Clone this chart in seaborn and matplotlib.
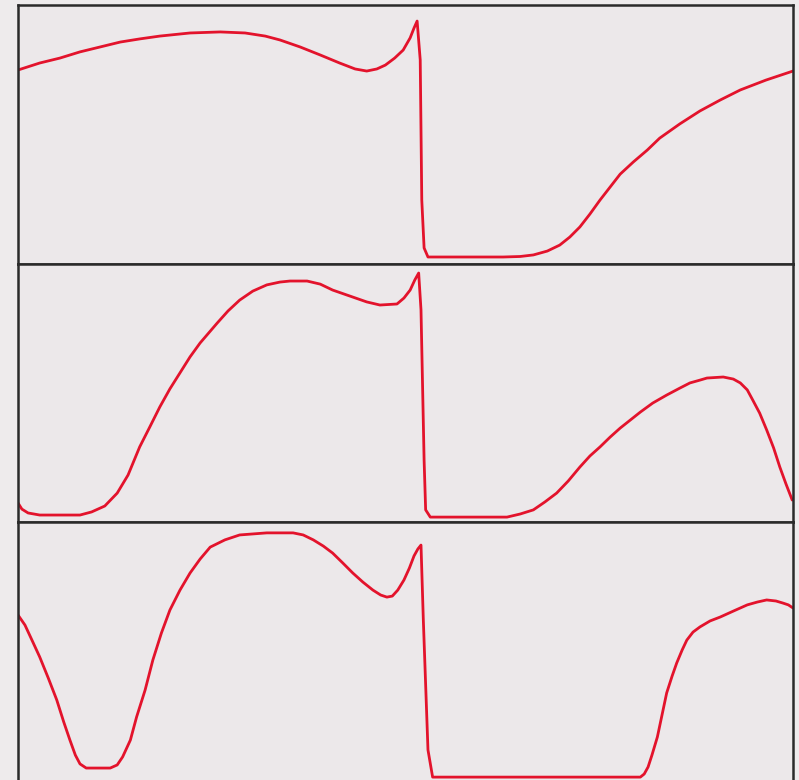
import numpy as np
import pandas as pd
import matplotlib
matplotlib.use("Agg")
import matplotlib.pyplot as plt
import seaborn as sns

# ---- data (time in % of window, signal in % of panel range) ----
t_top = [0, 2.8, 5.4, 8.0, 10.6, 13.2, 15.7, 18.3, 22.2, 26.1, 29.3, 31.9, 33.8, 36.4,
         39.0, 41.5, 43.5, 45.0, 46.3, 47.4, 48.6, 49.7, 50.6, 51.1, 51.5,
         51.9, 52.1, 52.4, 52.9, 62.6, 64.8, 66.5, 68.3, 69.9, 71.2, 72.5, 73.8, 75.1,
         76.4, 77.7, 79.4, 81.2, 82.8, 85.4, 88.0, 90.6, 93.2, 96.5, 100]
v_top = [74.9, 77.6, 79.5, 81.9, 83.8, 85.7, 86.9, 88.0, 89.2, 89.6, 89.2, 88.0, 86.5, 83.8,
         80.7, 77.6, 75.3, 74.5, 75.3, 76.8, 79.5, 82.6, 87.3, 91.1, 93.8,
         78.8, 24.7, 6.2, 2.7, 2.7, 2.9, 3.5, 5.0, 7.3, 10.4, 14.3, 19.3, 24.7,
         29.7, 34.7, 39.4, 44.0, 48.6, 54.1, 59.1, 63.3, 67.2, 71.0, 74.5]

t_mid = [0, 0.5, 1.3, 2.8, 8.0, 9.5, 11.2, 12.8, 14.2, 15.7, 17.0, 18.3, 19.6, 20.9, 22.2,
         23.5, 25.7, 27.1, 28.6, 30.3, 32.1, 33.8, 35.1, 37.3, 39.0, 40.6, 42.8, 45.0,
         46.7, 48.9, 49.8, 50.6, 51.2, 51.7,
         52.0, 52.4, 52.6, 53.2, 63.1, 64.8, 66.5, 68.0, 69.5, 71.0, 72.5, 73.8, 75.1,
         76.4, 77.7, 79.0, 80.3, 81.9, 83.7, 85.4, 86.7, 88.0, 88.9, 91.0, 92.3, 93.2,
         94.1, 94.8, 95.7, 96.6, 97.5, 98.3, 99.1, 99.9]
v_mid = [7.4, 5.0, 3.5, 2.7, 2.7, 3.9, 6.2, 11.2, 18.2, 29.1, 36.8, 44.6, 51.6, 57.8, 64.0,
         69.4, 77.1, 81.8, 86.0, 89.5, 91.9, 93.0, 93.4, 93.4, 92.2, 89.9, 87.6, 85.3,
         84.1, 84.5, 86.8, 89.9, 93.8, 96.5,
         82.2, 24.0, 4.7, 1.9, 1.9, 3.1, 4.7, 7.8, 11.2, 15.9, 21.3, 25.6, 29.1,
         32.9, 36.4, 39.5, 42.6, 46.1, 49.2, 51.9, 53.9, 55.0, 55.8, 56.2, 55.4, 53.9,
         51.2, 47.3, 42.2, 35.7, 28.7, 21.3, 14.7, 8.5]

t_bot = [0, 0.9, 1.8, 2.8, 3.9, 5.0, 5.9, 6.7, 7.4, 8.0, 8.8, 11.9, 12.8, 13.5, 14.5,
         15.3, 16.4, 17.4, 18.5, 19.6, 20.9, 22.2, 23.5, 24.8, 26.7, 28.6, 32.1, 35.5,
         36.8, 38.1, 39.4, 40.6, 41.9, 43.2, 44.5, 45.8, 46.8, 47.6, 48.3, 49.0, 49.8,
         50.5, 51.1, 51.6, 52.0,
         52.3, 52.9, 53.5, 80.3, 80.8, 81.3, 81.8, 82.5, 83.1, 83.7, 84.4, 85.0, 85.7,
         86.3, 87.1, 88.0, 89.3, 90.6, 92.3, 94.1, 95.4, 96.6, 97.8, 98.7, 99.4, 100]
v_bot = [64.1, 60.2, 54.4, 47.9, 39.8, 31.3, 22.8, 15.8, 10.0, 6.6, 5.0, 5.0, 6.2, 9.3, 15.8,
         24.7, 35.1, 46.7, 57.1, 66.0, 73.7, 80.3, 85.7, 90.3, 93.1, 95.0, 95.8, 95.8,
         95.0, 93.1, 90.7, 88.0, 84.2, 80.3, 76.8, 73.7, 71.8, 71.0, 71.4, 73.7, 77.6,
         82.2, 86.9, 89.6, 91.1,
         62.2, 12.0, 1.5, 1.5, 2.7, 5.4, 10.0, 17.0, 25.5, 34.0, 40.5, 45.6, 50.6,
         54.4, 57.5, 59.5, 61.8, 63.3, 65.6, 68.0, 69.1, 69.9, 69.5, 68.7, 68.0, 66.8]

series = [(t_top, v_top), (t_mid, v_mid), (t_bot, v_bot)]

sns.set_style("white")
W, H = 799, 780
fig = plt.figure(figsize=(W / 100, H / 100), dpi=100)
bg = "#ece8ea"
fig.patch.set_facecolor("#eeebec")

left = 18 / W
width = (793 - 18) / W
edges = [5, 264, 522, 781]

for i, (t, v) in enumerate(series):
    top, bot = edges[i], edges[i + 1]
    ax = fig.add_axes([left, 1 - bot / H, width, (bot - top) / H])
    ax.set_facecolor(bg)
    df = pd.DataFrame({"t": t, "v": v})
    sns.lineplot(data=df, x="t", y="v", ax=ax, sort=False, color="#e3132c",
                 linewidth=2.0, estimator=None, solid_joinstyle="round")
    ax.set_xlim(0, 100)
    ax.set_ylim(0, 100)
    ax.set_xticks([])
    ax.set_yticks([])
    ax.set_xlabel("")
    ax.set_ylabel("")
    for s in ax.spines.values():
        s.set_visible(True)
        s.set_color("#2a2a2a")
        s.set_linewidth(1.8)

fig.savefig("out.png", dpi=100, facecolor=fig.get_facecolor())
